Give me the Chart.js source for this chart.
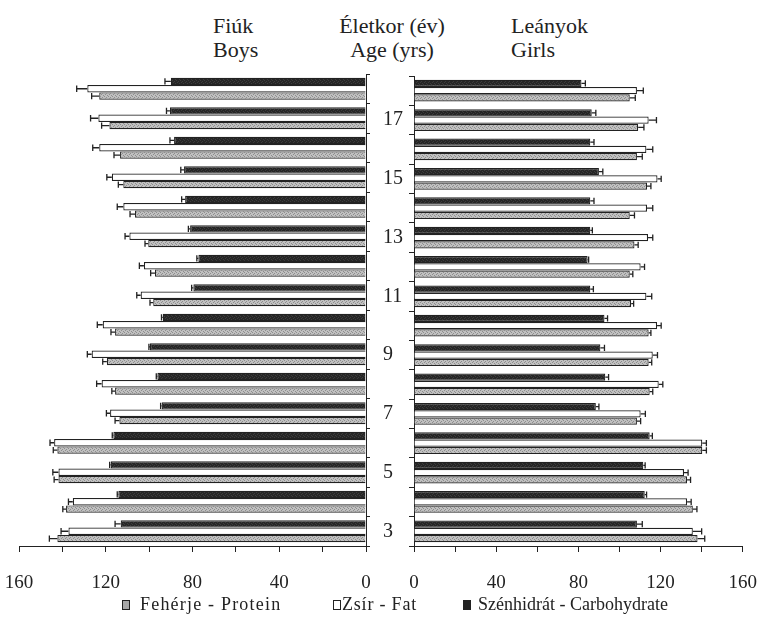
<!DOCTYPE html>
<html>
<head>
<meta charset="utf-8">
<script src="https://cdn.jsdelivr.net/npm/chart.js@4/dist/chart.umd.min.js"></script>
<style>
  html, body { margin: 0; padding: 0; background: #fff; }
  body { width: 777px; height: 629px; position: relative; overflow: hidden; font-family: "Liberation Serif", "Times New Roman", Times, "DejaVu Serif", serif; color: #222; }
  canvas { position: absolute; }
  .ttl { position: absolute; font-size: 22px; line-height: 24px; white-space: nowrap; }
  .leg { position: absolute; top: 593px; font-size: 18px; line-height: 22px; white-space: nowrap; }
  .box { position: absolute; top: 600px; width: 8px; height: 10px; border: 1px solid #222; box-sizing: border-box; }
</style>
</head>
<body>
<div class="ttl" style="left:213px; top:14px;">Fiúk<br>Boys</div>
<div class="ttl" style="left:292px; top:14px; width:200px; text-align:center;">Életkor (év)<br>Age (yrs)</div>
<div class="ttl" style="left:511px; top:14px;">Leányok<br>Girls</div>

<canvas id="boys" width="371" height="540" style="left:0px; top:60px;"></canvas>
<canvas id="girls" width="394" height="540" style="left:383px; top:60px;"></canvas>

<div class="box" style="left:122px; background:#a8a8a8;"></div>
<div class="leg" style="left:140px; letter-spacing:1.2px;">Fehérje - Protein</div>
<div class="box" style="left:333px; background:#fff;"></div>
<div class="leg" style="left:342px; letter-spacing:0.8px;">Zsír - Fat</div>
<div class="box" style="left:463px; background:#222;"></div>
<div class="leg" style="left:478px;">Szénhidrát - Carbohydrate</div>

<script>
// Ages (years), bottom to top
const ages = [3, 4, 5, 6, 7, 8, 9, 10, 11, 12, 13, 14, 15, 16, 17, 18];
const seriesNames = ['Fehérje - Protein', 'Zsír - Fat', 'Szénhidrát - Carbohydrate'];
const xTicks = [0, 40, 80, 120, 160];

// Boys (Fiúk)
const boysProtein    = [142.3, 138.3, 141.8, 142.3, 113.7, 115.7, 119.5, 115.7, 98.1, 97.3, 100.4, 106.5, 111.9, 113.4, 118.3, 123.0];
const boysProteinErr = [3.7, 1.5, 2.0, 1.9, 2.0, 1.5, 1.9, 1.9, 1.5, 2.0, 1.5, 2.3, 2.3, 2.8, 3.6, 3.5];
const boysFat        = [137.2, 135.2, 141.8, 143.8, 118.0, 121.9, 126.5, 121.4, 103.9, 102.4, 109.1, 111.9, 117.2, 123.0, 123.4, 128.5];
const boysFatErr     = [3.4, 2.0, 2.6, 1.9, 1.7, 2.3, 2.0, 2.5, 1.8, 2.1, 2.0, 2.8, 2.3, 3.0, 3.6, 4.9];
const boysCarb       = [113.1, 114.2, 117.7, 116.5, 94.2, 96.2, 99.6, 93.7, 79.6, 77.3, 81.1, 83.4, 83.9, 88.5, 90.4, 90.0];
const boysCarbErr    = [2.6, 0.5, 0.5, 0.5, 0.5, 0.5, 0.5, 0.6, 0.8, 0.7, 0.8, 1.6, 1.5, 1.9, 1.6, 2.7];

// Girls (Leányok)
const girlsProtein    = [138.0, 135.7, 132.9, 140.3, 108.5, 114.7, 114.2, 114.2, 105.7, 105.0, 107.3, 105.0, 113.4, 108.5, 109.1, 105.0];
const girlsProteinErr = [3.5, 2.0, 1.7, 2.0, 1.8, 1.5, 1.5, 1.1, 1.2, 1.5, 1.8, 2.3, 1.9, 2.6, 2.8, 2.7];
const girlsFat        = [135.7, 132.9, 131.4, 140.3, 110.3, 119.1, 116.2, 118.3, 113.1, 110.3, 113.9, 113.4, 118.5, 113.1, 114.2, 108.5];
const girlsFatErr     = [4.3, 2.0, 2.0, 2.0, 2.3, 2.0, 2.3, 2.0, 2.6, 1.9, 2.3, 2.8, 1.8, 3.1, 3.8, 3.1];
const girlsCarb       = [108.5, 112.3, 111.6, 114.7, 88.5, 93.1, 90.7, 92.7, 85.8, 84.5, 85.8, 85.8, 90.0, 85.8, 86.5, 81.5];
const girlsCarbErr    = [2.6, 0.9, 0.9, 1.3, 1.5, 1.6, 2.0, 1.5, 1.5, 0.5, 1.0, 1.8, 1.9, 1.8, 2.0, 1.9];

const FONT = '"Liberation Serif", "Times New Roman", Times, "DejaVu Serif", serif';

function makePattern(base, dot) {
  const c = document.createElement('canvas');
  c.width = 4; c.height = 4;
  const g = c.getContext('2d');
  g.fillStyle = base; g.fillRect(0, 0, 4, 4);
  g.fillStyle = dot;
  g.fillRect(0, 0, 1, 1); g.fillRect(2, 1, 1, 1); g.fillRect(1, 2, 1, 1); g.fillRect(3, 3, 1, 1);
  return g.createPattern(c, 'repeat');
}
const proteinFill = makePattern('#c0c0c0', '#8e8e8e');
const carbFill = makePattern('#262626', '#3c3c3c');
const fatFill = '#ffffff';

const errorBars = {
  id: 'errorBars',
  afterDatasetsDraw(chart) {
    const ctx = chart.ctx;
    const xs = chart.scales.x;
    ctx.save();
    ctx.strokeStyle = '#222';
    ctx.lineWidth = 1.3;
    chart.data.datasets.forEach((ds, di) => {
      const meta = chart.getDatasetMeta(di);
      meta.data.forEach((bar, i) => {
        const p = bar.getProps(['x', 'y', 'height'], true);
        const xe = xs.getPixelForValue(ds.data[i] + ds.errors[i]);
        const h = p.height - 1;
        ctx.beginPath();
        ctx.moveTo(p.x, p.y); ctx.lineTo(xe, p.y);
        ctx.moveTo(xe, p.y - h / 2); ctx.lineTo(xe, p.y + h / 2);
        ctx.stroke();
      });
    });
    ctx.restore();
  }
};

function datasets(carb, carbErr, fat, fatErr, prot, protErr) {
  const common = { borderColor: '#222', borderWidth: 1.2, categoryPercentage: 0.74, barPercentage: 1.0 };
  return [
    Object.assign({ label: seriesNames[2], data: carb, errors: carbErr, backgroundColor: carbFill }, common),
    Object.assign({ label: seriesNames[1], data: fat, errors: fatErr, backgroundColor: fatFill }, common),
    Object.assign({ label: seriesNames[0], data: prot, errors: protErr, backgroundColor: proteinFill }, common)
  ];
}

function xAxis(reverse) {
  return {
    type: 'linear', min: 0, max: 160, reverse: reverse,
    afterBuildTicks: (s) => { s.ticks = []; for (let v = 0; v <= 160; v += 20) s.ticks.push({ value: v }); },
    afterFit: (s) => { s.height = 54; },
    ticks: {
      color: '#222', padding: 20, maxRotation: 0, autoSkip: false,
      font: { family: FONT, size: 19 },
      callback: (v) => (xTicks.includes(v) ? String(v) : '')
    },
    grid: { drawOnChartArea: false, drawTicks: true, tickLength: 6, color: '#222' },
    border: { display: true, color: '#222', width: 1 }
  };
}

Chart.defaults.font.family = FONT;

new Chart(document.getElementById('boys'), {
  type: 'bar',
  data: { labels: ages, datasets: datasets(boysCarb, boysCarbErr, boysFat, boysFatErr, boysProtein, boysProteinErr) },
  options: {
    indexAxis: 'y', responsive: false, animation: false,
    layout: { padding: { left: 19, top: 14, right: 0, bottom: 0 } },
    plugins: { legend: { display: false }, tooltip: { enabled: false } },
    scales: {
      x: xAxis(true),
      y: {
        position: 'right', reverse: true,
        afterFit: (s) => { s.width = 5; },
        ticks: { display: false },
        grid: { drawOnChartArea: false, drawTicks: true, tickLength: 4, color: '#222', offset: true },
        border: { display: true, color: '#222', width: 1 }
      }
    }
  },
  plugins: [errorBars]
});

new Chart(document.getElementById('girls'), {
  type: 'bar',
  data: { labels: ages, datasets: datasets(girlsCarb, girlsCarbErr, girlsFat, girlsFatErr, girlsProtein, girlsProteinErr) },
  options: {
    indexAxis: 'y', responsive: false, animation: false,
    layout: { padding: { left: 0, top: 14, right: 16, bottom: 0 } },
    plugins: { legend: { display: false }, tooltip: { enabled: false } },
    scales: {
      x: xAxis(false),
      y: {
        position: 'left', reverse: true,
        afterFit: (s) => { s.width = 31; },
        ticks: {
          color: '#222', crossAlign: 'far', autoSkip: false, padding: 4,
          font: { family: FONT, size: 20 },
          callback: function (v) { const a = this.getLabelForValue(v); return (a % 2 === 1) ? String(a) : ''; }
        },
        grid: { drawOnChartArea: false, drawTicks: true, tickLength: 5, color: '#222', offset: true },
        border: { display: true, color: '#222', width: 1 }
      }
    }
  },
  plugins: [errorBars]
});
</script>
</body>
</html>
